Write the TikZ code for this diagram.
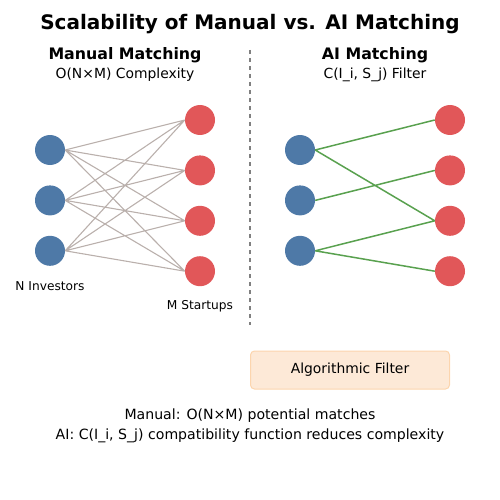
\documentclass[tikz,border=0pt]{standalone}
\usepackage{fontspec}
\setmainfont{DejaVu Sans}
\usetikzlibrary{positioning}

\definecolor{invblue}{HTML}{4E79A7}
\definecolor{stred}{HTML}{E15759}
\definecolor{linkgray}{HTML}{BAB0AC}
\definecolor{linkgreen}{HTML}{59A14F}
\definecolor{filterfill}{HTML}{FDE9D7}
\definecolor{filterdraw}{HTML}{FCD5AE}

\tikzset{
  investor/.style={circle,fill=invblue,minimum size=30pt,inner sep=0pt},
  startup/.style={circle,fill=stred,minimum size=30pt,inner sep=0pt},
  manuallink/.style={draw=linkgray,line width=1.1pt},
  ailink/.style={draw=linkgreen,line width=1.5pt},
  heading/.style={font=\fontsize{15.8}{19}\selectfont\bfseries},
  subheading/.style={font=\fontsize{13.9}{16}\selectfont},
  smalllabel/.style={font=\fontsize{12.2}{14}\selectfont},
}

\begin{document}
\begin{tikzpicture}[x=1pt,y=-1pt]
 \useasboundingbox (0,0) rectangle (500,500);
 \node[font=\fontsize{20}{23}\selectfont\bfseries] (title) at (250,24) {Scalability of Manual vs. AI Matching};
 \node[heading] (manualhead) at (125,55) {Manual Matching};
 \node[subheading] (manualsub) at (125,75) {O(N×M) Complexity};
 \node[heading] (aihead) at (375,55) {AI Matching};
 \node[subheading] (aisub) at (375,75) {C(I\_i, S\_j) Filter};
 %
 \coordinate (divtop) at (250,50);
 \coordinate (divbot) at (250,325);
 \draw[gray,line width=1.2pt,dash pattern=on 4pt off 4pt] (divtop) -- (divbot);
 %
 % manual side
 \node[investor] (mi1) at (50,150) {};
 \node[investor,below=20pt of mi1] (mi2) {};
 \node[investor,below=20pt of mi2] (mi3) {};
 \node[startup] (ms1) at (200,120) {};
 \node[startup,below=20pt of ms1] (ms2) {};
 \node[startup,below=20pt of ms2] (ms3) {};
 \node[startup,below=20pt of ms3] (ms4) {};
 \node[smalllabel] (minv) at (50,286) {N Investors};
 \node[smalllabel] (mst) at (200,306) {M Startups};
 %
 % ai side
 \node[investor] (ai1) at (300,150) {};
 \node[investor,below=20pt of ai1] (ai2) {};
 \node[investor,below=20pt of ai2] (ai3) {};
 \node[startup] (as1) at (450,120) {};
 \node[startup,below=20pt of as1] (as2) {};
 \node[startup,below=20pt of as2] (as3) {};
 \node[startup,below=20pt of as3] (as4) {};
 %
 \path[manuallink]
   (mi1.east) -- (ms1.west) (mi1.east) -- (ms2.west) (mi1.east) -- (ms3.west) (mi1.east) -- (ms4.west)
   (mi2.east) -- (ms1.west) (mi2.east) -- (ms2.west) (mi2.east) -- (ms3.west) (mi2.east) -- (ms4.west)
   (mi3.east) -- (ms1.west) (mi3.east) -- (ms2.west) (mi3.east) -- (ms3.west) (mi3.east) -- (ms4.west);
 \path[ailink]
   (ai1.east) -- (as1.west) (ai1.east) -- (as3.west)
   (ai2.east) -- (as2.west)
   (ai3.east) -- (as3.west) (ai3.east) -- (as4.west);
 %
 \node[draw=filterdraw,fill=filterfill,line width=1pt,rounded corners=4pt,minimum width=199pt,minimum height=38pt,subheading] (filter) at (350,370) {Algorithmic Filter};
 \node[font=\fontsize{14.1}{16}\selectfont] (note1) at (250,416) {Manual: O(N×M) potential matches};
 \node[font=\fontsize{14.1}{16}\selectfont] (note2) at (250,436) {AI: C(I\_i, S\_j) compatibility function reduces complexity};
\end{tikzpicture}
\end{document}
